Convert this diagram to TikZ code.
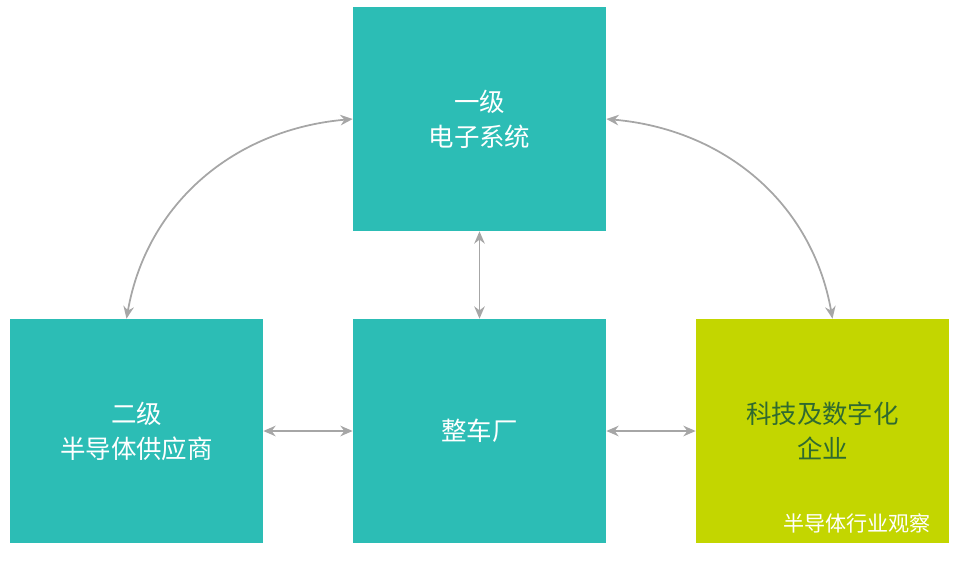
\documentclass[tikz,border=0pt]{standalone}
\usepackage{fontspec}
\newfontfamily\cjk{Noto Sans CJK SC}
\usetikzlibrary{arrows.meta}
\definecolor{tealbox}{HTML}{2CBDB5}
\definecolor{limebox}{HTML}{C3D600}
\definecolor{darkgreen}{HTML}{2F6A30}
\definecolor{arrowgrey}{HTML}{A6A6A6}
\tikzset{
  box/.style={fill=tealbox, text=white, minimum width=5.06cm, minimum height=4.48cm,
    align=center, font=\cjk\fontsize{14.5}{20}\selectfont, inner sep=0pt},
  link/.style={arrowgrey, line width=1pt, {Stealth[length=7pt,width=6pt]}-{Stealth[length=7pt,width=6pt]}}
}
\begin{document}
\begin{tikzpicture}[x=0.02cm,y=-0.02cm]
  \useasboundingbox (0,0) rectangle (968,568);

  % Boxes
  \node[box] (top) at (479.5,119) {一级\\电子系统};
  \node[box] (tier2) at (136.5,431) {二级\\半导体供应商};
  \node[box] (oem) at (479.5,431) {整车厂};
  \node[box, fill=limebox, text=darkgreen] (tech) at (822.5,431) {科技及数字化\\企业};

  % Watermark
  \node[anchor=east, text=white, font=\cjk\fontsize{12}{14}\selectfont] (mark) at (937,523) {半导体行业观察};

  % Connectors
  \draw[link] (tier2.east) -- (oem.west);
  \draw[link] (oem.east) -- (tech.west);
  \draw[link] (top.south) -- (oem.north);
  \draw[link] (top.west) to[out=185,in=80] ([xshift=-0.2cm]tier2.north);
  \draw[link] (top.east) to[out=-5,in=100] ([xshift=0.2cm]tech.north);
\end{tikzpicture}
\end{document}
